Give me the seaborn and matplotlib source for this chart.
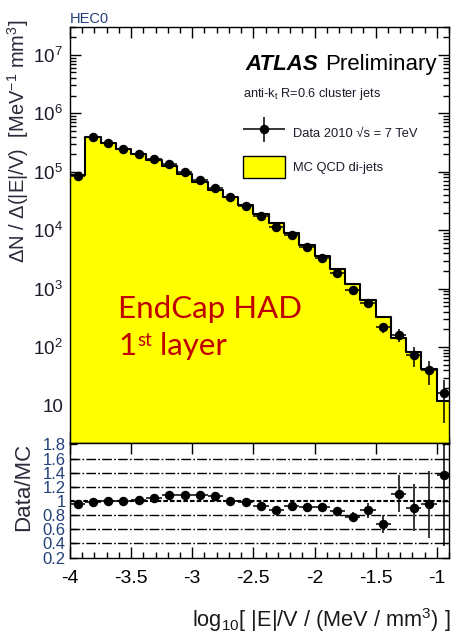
import numpy as np
import pandas as pd
import matplotlib
matplotlib.use("Agg")
import matplotlib.pyplot as plt
import seaborn as sns
from matplotlib.ticker import FixedLocator, FixedFormatter, MultipleLocator, LogLocator, NullFormatter
from matplotlib.legend_handler import HandlerErrorbar
from matplotlib.container import ErrorbarContainer
from matplotlib.patches import Patch

# ---- binning: log10(|E|/V) in 25 bins of width 0.125 starting at -4 ----
bin_lo = -4.0
bin_width = 0.125
n_bins = 25
bin_edges = bin_lo + bin_width * np.arange(n_bins + 1)
bin_centers = 0.5 * (bin_edges[:-1] + bin_edges[1:])

# ---- data 2010 (entries per bin, normalised) ----
data_counts = [8.5e4, 3.9e5, 3.08e5, 2.43e5, 2.02e5, 1.66e5, 1.35e5, 9.9e4,
               7.2e4, 5.3e4, 3.75e4, 2.6e4, 1.75e4, 1.15e4, 8.3e3, 5.2e3,
               3.3e3, 1.83e3, 950, 560, 217, 160, 73, 40, 16]
data_err = [600, 1500, 1300, 1100, 1000, 900, 800, 650, 550, 450, 380, 300,
            240, 180, 150, 110, 80, 55, 28, 60, 45, 40, 28, 18, 11]

# ---- MC QCD di-jets ----
mc_counts = [8.85e4, 3.96e5, 3.08e5, 2.43e5, 2.0e5, 1.6e5, 1.25e5, 9.08e4,
             6.64e4, 4.95e4, 3.75e4, 2.65e4, 1.88e4, 1.32e4, 8.92e3, 5.65e3,
             3.61e3, 2.13e3, 1218, 647, 324, 145, 80.7, 42, 11.7]

# ---- Data/MC uncertainties ----
ratio_err = [0.01, 0.01, 0.01, 0.01, 0.01, 0.01, 0.01, 0.01, 0.01, 0.01,
             0.01, 0.01, 0.015, 0.015, 0.02, 0.02, 0.02, 0.025, 0.06, 0.11,
             0.13, 0.26, 0.33, 0.47, 1.0]

# ---- axis ticks / labels ----
main_yticks = [1e1, 1e2, 1e3, 1e4, 1e5, 1e6, 1e7]
main_yticklabels = ["10", "$10^{2}$", "$10^{3}$", "$10^{4}$", "$10^{5}$",
                    "$10^{6}$", "$10^{7}$"]
ratio_yticks = [0.2, 0.4, 0.6, 0.8, 1.0, 1.2, 1.4, 1.6, 1.8]
ratio_yticklabels = ["0.2", "0.4", "0.6", "0.8", "1", "1.2", "1.4", "1.6", "1.8"]
ratio_guides = [0.4, 0.6, 0.8, 1.2, 1.4, 1.6]
xticks = [-4, -3.5, -3, -2.5, -2, -1.5, -1]
xticklabels = ["-4", "-3.5", "-3", "-2.5", "-2", "-1.5", "-1"]

sns.set_theme(style="ticks")
plt.rcParams["font.family"] = ["Liberation Sans", "DejaVu Sans"]
plt.rcParams["mathtext.fontset"] = "custom"
plt.rcParams["mathtext.rm"] = "Liberation Sans"
plt.rcParams["mathtext.it"] = "Liberation Sans:italic"
plt.rcParams["mathtext.bf"] = "Liberation Sans:bold"
plt.rcParams["mathtext.default"] = "regular"

W, H = 454, 633
fig = plt.figure(figsize=(W / 100, H / 100), dpi=100)
fig.patch.set_facecolor("white")

def fx(px):
    return px / W

def fy(py):
    return 1 - py / H

ax = fig.add_axes([fx(70), fy(443), fx(449) - fx(70), fy(27) - fy(443)])
ax2 = fig.add_axes([fx(70), fy(557.5), fx(449) - fx(70), fy(443) - fy(557.5)],
                   sharex=ax)
for a in (ax, ax2):
    a.set_facecolor("white")
    for s in a.spines.values():
        s.set_color("black")
        s.set_linewidth(1.0)

# ---- main panel ----
ax.set_yscale("log")
df = pd.DataFrame({"center": bin_centers, "mc": mc_counts})
sns.histplot(data=df, x="center", weights="mc", bins=list(bin_edges),
             element="step", fill=True, color="#ffff00", alpha=1.0,
             edgecolor="black", linewidth=1.5, ax=ax, zorder=1)

half_w = np.full(n_bins, bin_width / 2)
eb = ax.errorbar(bin_centers, data_counts, yerr=data_err, xerr=half_w, fmt="o",
                 color="black", ms=5.8, elinewidth=1.1, capsize=0, zorder=3,
                 label="Data 2010 \u221as = 7 TeV")

ax.set_xlim(-4, -0.9)
ax.set_ylim(2.27, 3.0e7)
ax.set_xlabel("")
ax.set_ylabel("")
ax.xaxis.set_major_locator(FixedLocator(xticks))
ax.xaxis.set_minor_locator(MultipleLocator(0.1))
ax.yaxis.set_major_locator(FixedLocator(main_yticks))
ax.yaxis.set_major_formatter(FixedFormatter(main_yticklabels))
ax.yaxis.set_minor_locator(LogLocator(base=10, subs=np.arange(2, 10)))
ax.yaxis.set_minor_formatter(NullFormatter())
ax.tick_params(which="both", direction="in", top=True, right=True,
               labelbottom=False, color="black", width=1.0)
ax.tick_params(which="major", length=8)
ax.tick_params(which="minor", length=4.5)
ax.tick_params(axis="y", which="major", labelsize=13.5, pad=5,
               labelcolor="#1a1a2a")

# ---- ratio panel ----
ratio = np.asarray(data_counts) / np.asarray(mc_counts)
for lvl in ratio_guides:
    ax2.axhline(lvl, color="black", lw=1.0, dashes=(7, 1.6, 1.2, 1.6), zorder=1)
ax2.axhline(1.0, color="black", lw=1.5, dashes=(2.2, 1.0), zorder=1)
ax2.errorbar(bin_centers, ratio, yerr=ratio_err, xerr=half_w, fmt="o",
             color="black", ms=5.8, elinewidth=1.1, capsize=0, zorder=3)
ax2.set_ylim(0.2, 1.82)
ax2.yaxis.set_major_locator(FixedLocator(ratio_yticks))
ax2.yaxis.set_major_formatter(FixedFormatter(ratio_yticklabels))
ax2.xaxis.set_major_formatter(FixedFormatter(xticklabels))
ax2.tick_params(which="both", direction="in", top=True, right=True,
                color="black", width=1.0)
ax2.tick_params(which="major", length=8)
ax2.tick_params(which="minor", length=4.5, top=False)
ax2.tick_params(axis="y", which="major", labelsize=12, pad=3,
                labelcolor="#23407a", length=5)
ax2.tick_params(axis="x", which="major", labelsize=14, pad=9, labelcolor="black")

# ---- axis titles ----
fig.text(fx(18), fy(141), r"$\Delta$N / $\Delta$(|E|/V)  [MeV$^{-1}$ mm$^{3}$]",
         rotation=90, ha="center", va="center", fontsize=14.5, color="#2a2a3a")
fig.text(fx(24), fy(487), "Data/MC", rotation=90, ha="center", va="center",
         fontsize=16, color="#2a2a3a")
fig.text(fx(451), fy(627), r"log$_{10}$[ |E|/V / (MeV / mm$^{3}$) ]",
         ha="right", va="baseline", fontsize=15.7, color="#1a1a1a")

# ---- labels ----
fig.text(fx(70), fy(23), "HEC0", fontsize=10.5, color="#23407a", va="baseline")
fig.text(fx(245), fy(70), "ATLAS", fontsize=16, weight="bold", style="italic",
         va="baseline", color="black")
fig.text(fx(437), fy(70), "Preliminary", fontsize=16, ha="right",
         va="baseline", color="black")
fig.text(fx(243), fy(96.7), r"anti-k$_{t}$ R=0.6 cluster jets", fontsize=9.2,
         va="baseline", color="#1a1a2a")

mc_patch = Patch(facecolor="#ffff00", edgecolor="black", linewidth=1.0)
ax.legend(handles=[eb, mc_patch],
          labels=["Data 2010 \u221as = 7 TeV", "MC QCD di-jets"],
          loc="upper left", bbox_to_anchor=(fx(243), fy(122)),
          bbox_transform=fig.transFigure, frameon=False, fontsize=9.3,
          handlelength=3.25, handleheight=2.2, handletextpad=0.6,
          labelspacing=0.98, borderpad=0, borderaxespad=0,
          labelcolor="#1a1a2a",
          handler_map={ErrorbarContainer: HandlerErrorbar(xerr_size=1.6,
                                                          yerr_size=1.0)})

red = "#c00000"
fig.text(fx(118), fy(318), "EndCap HAD", fontsize=22.5, family="Lato",
         color=red, va="baseline")
t1 = fig.text(fx(118), fy(355), "1", fontsize=22.5, family="Lato", color=red,
              va="baseline")
t_st = ax.annotate("st", xy=(1, 1), xycoords=t1, xytext=(1, 0),
                   textcoords="offset points", ha="left", va="top",
                   fontsize=13.5, family="Lato", color=red)
ax.annotate(" layer", xy=(1, 0), xycoords=(t_st, t1), ha="left", va="bottom",
            fontsize=22.5, family="Lato", color=red)

fig.savefig("out.png", dpi=100, facecolor="white")
